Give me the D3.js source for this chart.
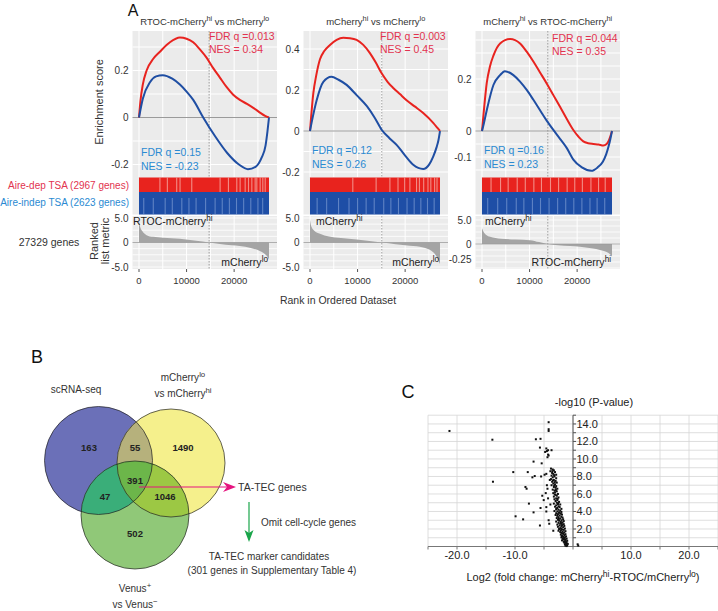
<!DOCTYPE html>
<html><head><meta charset="utf-8">
<script src="https://cdn.jsdelivr.net/npm/d3@7"></script>
<style>body{margin:0;background:#fff;} svg{font-family:"Liberation Sans",Arial,sans-serif;}</style>
</head><body><svg id="c" width="718" height="611"></svg>
<script>
// ================= DATA =================
const nGenes = 27329;
const gseaTitles = ["RTOC-mCherry^{hi} vs mCherry^{lo}", "mCherry^{hi} vs mCherry^{lo}", "mCherry^{hi} vs RTOC-mCherry^{hi}"];
const redFDR = ["FDR q =0.013", "FDR q =0.003", "FDR q =0.044"];
const redNES = ["NES = 0.34", "NES = 0.45", "NES = 0.35"];
const blueFDR = ["FDR q =0.15", "FDR q =0.12", "FDR q =0.16"];
const blueNES = ["NES = -0.23", "NES = 0.26", "NES = 0.23"];
const topLabels = ["RTOC-mCherry^{hi}", "mCherry^{hi}", "mCherry^{hi}"];
const bottomLabels = ["mCherry^{lo}", "mCherry^{lo}", "RTOC-mCherry^{hi}"];
const crossRanks = [14740, 15090, 13830];
const esTicks = [[-0.2, 0, 0.2], [-0.2, 0, 0.2, 0.4], [-0.1, 0, 0.2]];
const metricTickValues = [[5, 0, -5], [5, 0, -5], [5, 0, -3.125]];
const metricTickLabels = [["5.0", "0", "-5.0"], ["5.0", "0", "-5.0"], ["5.0", "0", "-0.25"]];
const rankTicks = [0, 10000, 20000];
const geneSets = ["Aire-dep TSA (2967 genes)", "Aire-indep TSA (2623 genes)"];
const totalGenesLabel = "27329 genes";

const esRed = [
 [[0,0],[300,0.07],[800,0.14],[1600,0.2],[3000,0.25],[4400,0.28],[6500,0.32],[8600,0.34],[10000,0.335],[11400,0.32],[12800,0.29],[14200,0.255],[15600,0.21],[17000,0.17],[18400,0.13],[19800,0.097],[21200,0.075],[22700,0.058],[24100,0.04],[25500,0.02],[26500,0.007],[27329,0]],
 [[0,0],[700,0.185],[1300,0.27],[2100,0.35],[3000,0.39],[4200,0.42],[5600,0.445],[7000,0.455],[8400,0.453],[9800,0.445],[11200,0.42],[12600,0.38],[13800,0.335],[15100,0.28],[16300,0.24],[17500,0.21],[18900,0.18],[20300,0.15],[22000,0.12],[23800,0.088],[25900,0.04],[26800,0.015],[27329,0]],
 [[0,0],[400,0.08],[1000,0.185],[1700,0.25],[2400,0.29],[3800,0.337],[5900,0.354],[8000,0.337],[9400,0.305],[10800,0.267],[12200,0.225],[13600,0.183],[15000,0.138],[16400,0.093],[17800,0.047],[19200,0.004],[20300,-0.022],[21300,-0.04],[22300,-0.047],[23400,-0.05],[24500,-0.052],[25500,-0.056],[26200,-0.05],[26700,-0.035],[27329,0]]
];
const esBlue = [
 [[0,0],[800,0.08],[2300,0.15],[3600,0.175],[5000,0.18],[7000,0.165],[8600,0.14],[10000,0.11],[11400,0.075],[13500,0],[16000,-0.08],[18500,-0.15],[21000,-0.2],[22900,-0.22],[24500,-0.21],[25800,-0.17],[26600,-0.12],[27000,-0.06],[27329,0]],
 [[0,0],[600,0.07],[1400,0.15],[2800,0.24],[4500,0.265],[6000,0.25],[7700,0.225],[9800,0.175],[12000,0.12],[13600,0.065],[15100,0.005],[16700,-0.035],[18300,-0.07],[20000,-0.12],[21700,-0.165],[23800,-0.185],[25000,-0.165],[25900,-0.125],[26600,-0.08],[27000,-0.045],[27329,0]],
 [[0,0],[400,0.03],[1000,0.08],[2400,0.177],[3800,0.215],[4800,0.23],[6600,0.215],[8000,0.19],[9400,0.158],[10800,0.12],[12200,0.08],[13600,0.04],[15000,0.004],[16400,-0.03],[17800,-0.065],[19200,-0.11],[21000,-0.14],[23000,-0.153],[24300,-0.14],[25400,-0.118],[26100,-0.09],[26600,-0.06],[27000,-0.03],[27329,0]]
];
const rankedMetric = [
 [[0,4.4],[300,3.0],[800,2.2],[1600,1.5],[3000,1.15],[5000,0.95],[8600,0.75],[12000,0.35],[14740,0],[17000,-0.3],[19500,-0.55],[21200,-0.7],[23500,-1.1],[25500,-1.8],[26500,-2.4],[27000,-2.9],[27329,-3.4]],
 [[0,4.6],[300,3.2],[900,2.4],[2100,1.8],[4000,1.2],[6500,0.9],[9800,0.6],[12500,0.3],[15090,0],[18000,-0.35],[21000,-0.65],[23800,-1.0],[25500,-1.7],[26700,-3.0],[27329,-4.4]],
 [[0,3.3],[400,2.4],[900,1.9],[1700,1.5],[4000,1.1],[7000,0.95],[10100,0.8],[12000,0.4],[13830,0],[16000,-0.25],[18500,-0.4],[20600,-0.55],[23000,-0.9],[25000,-1.3],[26600,-1.9],[27329,-2.6]]
];
// ranks where the hit bars are sparse (lighter stripes)
const redGaps = [
 [4400,5960,7930,8630,11090,17050,18800,20560,21260,22320,23020,23720,24420,24770,25470,26030,26530],
 [9000,13900,16800,18500,19900,21000,22400,23000,23900,24800,25400,26200,26700],
 [1900,3900,5500,7400,9100,10900,12500,14400,16100,17900,19500,21100,22900,24500,25900]
];
const blueGaps = [
 [1000,3000,5500,7000,9000,10500,12000,14000,16000,17500,19000,20500,22000,23500,25000,26000],
 [1500,3500,6000,8200,10000,11800,13500,15500,17000,18600,20400,21900,23300,24700,26100],
 [1200,3300,5200,7200,8800,10600,12300,14100,15900,17600,19300,21000,22700,24200,25800]
];

// Venn
const vennSets = ["scRNA-seq", "mCherry^{lo}|vs mCherry^{hi}", "Venus^{+}|vs Venus^{−}"];
const vennCounts = {A:163, B:1490, C:502, AB:55, AC:47, BC:1046, ABC:391};
const flowTexts = ["TA-TEC genes", "Omit cell-cycle genes", "TA-TEC marker candidates", "(301 genes in Supplementary Table 4)"];

// Volcano (log2 FC, -log10 P)
const volcanoOutliers = [
 [-21.3,13.2],[-13.9,12.2],[-13.8,7.4],[-4.2,14.2],[-4.2,13.4],[-4.2,13.2],[-6.4,12.25],[-5.6,12.3],[-5.7,11.3],
 [-4.6,11.2],[-4.3,11.0],[-4.5,10.9],[-4.3,10.5],[-4.2,10.4],[-3.7,11.0],[-4.8,10.8],[-6.8,9.7],[-5.4,9.5],[-4.4,10.2],
 [-10.3,8.5],[-7.8,8.5],[-6.6,8.05],[-7.0,7.9],[-5.5,8.0],[-8.2,6.8],[-8.0,6.6],[-7.6,4.9],[-9.9,3.45],[-8.6,3.1],
 [-6.8,3.9],[-5.7,2.4],[-5.3,5.8],[-5.05,5.3],[-5.6,4.4],[-4.6,4.5],[-4.9,8.2],[-4.6,8.3],[-4.5,7.0],[-4.7,6.1],
 [-4.3,5.5],[-3.9,4.8],[-4.6,4.0],[-4.2,3.0],[-4.1,2.6],[-3.4,1.8],[-4.4,6.6],[-4.0,7.6],[0.8,0.25],[0.9,0.1]
];
const volcanoMain = [
 [-3.8,8.9],[-3.5,8.8],[-3.3,8.7],[-3.9,8.6],[-3.1,8.5],[-3.6,8.4],[-3.4,8.3],[-2.9,8.2],
 [-3.7,8.1],[-3.2,8.0],[-3.5,7.9],[-2.9,7.8],[-3.8,7.7],[-3.3,7.6],[-3.0,7.5],[-3.6,7.4],[-2.8,7.3],
 [-3.4,7.2],[-3.1,7.1],[-3.7,7.0],[-2.9,6.9],[-3.3,6.8],[-3.0,6.7],[-2.7,6.6],[-3.5,6.5],[-3.2,6.4],
 [-2.8,6.3],[-3.1,6.2],[-3.4,6.1],[-2.6,6.0],[-3.0,5.9],[-2.8,5.8],[-3.3,5.7],[-2.5,5.6],[-2.9,5.5],[-3.2,5.4],
 [-2.7,5.3],[-3.0,5.2],[-2.4,5.1],[-2.8,5.0],[-3.3,4.9],[-2.6,4.85],[-2.2,4.8],[-2.9,4.7],[-2.5,4.6],[-3.1,4.55],[-2.3,4.5],[-2.7,4.4],
 [-2.0,4.3],[-2.9,4.25],[-2.5,4.2],[-2.2,4.1],[-3.2,4.05],[-2.7,4.0],[-2.0,3.95],[-2.4,3.9],[-2.9,3.8],[-2.1,3.75],[-2.6,3.7],[-1.9,3.65],[-3.0,3.6],[-2.3,3.55],[-2.7,3.5],
 [-2.0,3.4],[-2.5,3.35],[-1.8,3.3],[-2.8,3.25],[-2.2,3.2],[-1.7,3.1],[-2.6,3.05],[-2.0,3.0],[-2.4,2.95],[-1.6,2.9],[-2.9,2.85],[-2.1,2.8],[-1.8,2.75],[-2.5,2.7],[-2.2,2.6],[-1.6,2.55],[-2.7,2.5],
 [-1.9,2.45],[-2.3,2.4],[-1.5,2.35],[-2.0,2.3],[-2.6,2.25],[-1.7,2.2],[-2.2,2.1],[-1.4,2.05],[-2.4,2.0],[-1.9,1.95],[-1.6,1.9],[-2.1,1.85],[-2.5,1.8],[-1.3,1.75],[-1.8,1.7],[-2.2,1.65],[-1.5,1.6],[-2.0,1.55],
 [-1.7,1.45],[-1.3,1.4],[-2.1,1.35],[-1.5,1.3],[-1.9,1.2],[-1.2,1.15],[-1.6,1.1],[-2.0,1.05],[-1.4,1.0],[-1.8,0.95],[-1.1,0.9],[-1.5,0.85],[-1.7,0.8],[-1.3,0.75],[-1.9,0.7],[-1.0,0.65],[-1.4,0.6],[-1.6,0.55],[-1.2,0.5],
 [-1.5,0.45],[-1.1,0.4],[-1.3,0.35],[-0.9,0.3],[-1.4,0.25],[-1.2,0.2],[-1.0,0.15],[-1.3,0.1],[-1.1,0.05],
 [-3.55,8.6],[-3.25,8.15],[-3.45,7.55],[-3.15,7.35],[-3.25,6.95],[-2.95,6.45],[-3.15,5.95],[-2.65,5.45],[-2.55,4.95],[-2.85,4.35],[-2.35,3.85],[-2.45,3.15],[-1.95,2.65],[-2.05,2.05],[-1.75,1.5],[-1.55,0.95],[-1.25,0.45]
];
const volXTicks = [-20, -10, 10, 20];
const volYTicks = [2, 4, 6, 8, 10, 12, 14];
const volTitle = "-log10 (P-value)";
const volXLabel = "Log2 (fold change: mCherry^{hi}-RTOC/mCherry^{lo})";

// ================= DRAW =================
const svg = d3.select("#c");
const redLine = "#e8231f", blueLine = "#1f4ea3", redText = "#e2334f", blueText = "#2a8ad2";
const txt = "#333";

function rich(t, str, fs) {
  const parts = str.split(/(\^\{[^}]*\})/).filter(s => s.length);
  let shifted = false;
  parts.forEach(p => {
    const m = p.match(/^\^\{([^}]*)\}$/);
    if (m) {
      t.append("tspan").attr("dy", -fs * 0.38).attr("font-size", fs * 0.78).text(m[1]);
      shifted = true;
    } else {
      const s = t.append("tspan").text(p);
      if (shifted) s.attr("dy", fs * 0.38);
      shifted = false;
    }
  });
  return t;
}
function label(g, str, x, y, fs, opts = {}) {
  const t = g.append("text").attr("x", x).attr("y", y).attr("font-size", fs)
    .attr("fill", opts.fill || txt).attr("text-anchor", opts.anchor || "start");
  if (opts.transform) t.attr("transform", opts.transform);
  return rich(t, str, fs);
}

// Panel letters
label(svg, "A", 133, 15.5, 16, {anchor: "middle", fill: "#111"});
label(svg, "B", 37, 363, 18, {anchor: "middle", fill: "#111"});
label(svg, "C", 408, 398, 18, {anchor: "middle", fill: "#111"});

// ---------- Panel A ----------
const layout = [
  {x0: 139, esDom: [-0.2, 0.2], esRng: [164.5, 70.5], esGrid: 0.1, mDom: [-5, 5], mRng: [267, 218], tlDx: -6, redY: 40, blueY: 156},
  {x0: 310, esDom: [-0.2, 0.4], esRng: [172, 49], esGrid: 0.1, mDom: [-5, 5], mRng: [267, 218], tlDx: 6, redY: 40, blueY: 154},
  {x0: 482, esDom: [-0.1, 0.2], esRng: [157, 79], esGrid: 0.05, mDom: [-5, 5], mRng: [268, 220], tlDx: 3, redY: 42, blueY: 154}
];
const W = 130, esTop = 31, esBot = 177, redTop = 177.5, redBot = 192, blueBot = 214.5, mTop = 216, mBot = 269;

layout.forEach((L, i) => {
  const g = svg.append("g");
  const x = d3.scaleLinear().domain([0, nGenes]).range([L.x0, L.x0 + W]);
  const plotL = L.x0 - 6.5, plotR = L.x0 + W + 8;
  const yE = d3.scaleLinear().domain(L.esDom).range(L.esRng);
  const yM = d3.scaleLinear().domain(L.mDom).range(L.mRng);

  // backgrounds
  g.append("rect").attr("x", plotL).attr("y", esTop).attr("width", plotR - plotL).attr("height", blueBot - esTop).attr("fill", "#ebebeb");
  g.append("rect").attr("x", plotL).attr("y", mTop).attr("width", plotR - plotL).attr("height", mBot - mTop).attr("fill", "#ebebeb");

  // grids
  const vr = d3.range(0, 30001, 5000).filter(r => x(r) <= plotR);
  g.selectAll(null).data(vr).join("line")
    .attr("x1", d => x(d)).attr("x2", d => x(d)).attr("y1", esTop).attr("y2", esBot)
    .attr("stroke", "#fff").attr("stroke-width", 1);
  g.selectAll(null).data(vr).join("line")
    .attr("x1", d => x(d)).attr("x2", d => x(d)).attr("y1", mTop).attr("y2", mBot)
    .attr("stroke", "#fff").attr("stroke-width", 1);
  const hr = d3.range(-0.5, 0.6, L.esGrid).map(v => +v.toFixed(3)).filter(v => yE(v) > esTop && yE(v) < esBot);
  g.selectAll(null).data(hr).join("line")
    .attr("x1", plotL).attr("x2", plotR).attr("y1", d => yE(d)).attr("y2", d => yE(d))
    .attr("stroke", "#fff").attr("stroke-width", 1);
  const mr = d3.range(-5, 5.01, 1.25).filter(v => yM(v) > mTop && yM(v) < mBot);
  g.selectAll(null).data(mr).join("line")
    .attr("x1", plotL).attr("x2", plotR).attr("y1", d => yM(d)).attr("y2", d => yM(d))
    .attr("stroke", "#fff").attr("stroke-width", 0.8);

  // zero line
  g.append("line").attr("x1", plotL).attr("x2", plotR).attr("y1", yE(0)).attr("y2", yE(0)).attr("stroke", "#9a9a9a").attr("stroke-width", 1.2);
  // crossing dotted line
  [[esTop, esBot], [mTop, mBot]].forEach(([a, b]) =>
    g.append("line").attr("x1", x(crossRanks[i])).attr("x2", x(crossRanks[i])).attr("y1", a).attr("y2", b)
      .attr("stroke", "#8a8a8a").attr("stroke-width", 0.8).attr("stroke-dasharray", "1.5,1.5"));

  // ES curves
  const line = d3.line().x(d => x(d[0])).y(d => yE(d[1])).curve(d3.curveMonotoneX);
  g.append("path").attr("d", line(esRed[i])).attr("fill", "none").attr("stroke", redLine).attr("stroke-width", 2);
  g.append("path").attr("d", line(esBlue[i])).attr("fill", "none").attr("stroke", blueLine).attr("stroke-width", 2);

  // hit bands
  g.append("rect").attr("x", x(0)).attr("y", redTop).attr("width", W).attr("height", redBot - redTop).attr("fill", "#e8231e");
  g.append("rect").attr("x", x(0)).attr("y", redBot).attr("width", W).attr("height", blueBot - redBot).attr("fill", "#1e4ea6");
  g.selectAll(null).data(redGaps[i]).join("line")
    .attr("x1", d => x(d)).attr("x2", d => x(d)).attr("y1", redTop).attr("y2", redBot)
    .attr("stroke", "#f6b0a8").attr("stroke-opacity", 0.75).attr("stroke-width", 1.1);
  g.selectAll(null).data(blueGaps[i]).join("line")
    .attr("x1", d => x(d)).attr("x2", d => x(d)).attr("y1", redBot + 6).attr("y2", blueBot)
    .attr("stroke", "#8aa6d8").attr("stroke-opacity", 0.6).attr("stroke-width", 1.1);

  // ranked metric area
  const area = d3.area().x(d => x(d[0])).y0(yM(0)).y1(d => yM(d[1])).curve(d3.curveMonotoneX);
  g.append("path").attr("d", area(rankedMetric[i])).attr("fill", "#a4a4a4");
  g.append("line").attr("x1", plotL).attr("x2", plotR).attr("y1", yM(0)).attr("y2", yM(0)).attr("stroke", "#9a9a9a").attr("stroke-width", 0.8);

  // y tick labels
  g.selectAll(null).data(esTicks[i]).join("text")
    .attr("x", plotL - 4).attr("y", d => yE(d)).attr("dy", "0.35em").attr("text-anchor", "end")
    .attr("font-size", 10).attr("fill", txt).text(d => d === 0 ? "0" : d.toFixed(1));
  g.selectAll(null).data(metricTickValues[i]).join("text")
    .attr("x", plotL - 4).attr("y", d => yM(d)).attr("dy", "0.35em").attr("text-anchor", "end")
    .attr("font-size", 10).attr("fill", txt).text((d, j) => metricTickLabels[i][j]);

  // x axis
  g.selectAll(null).data(rankTicks).join("line")
    .attr("x1", d => x(d)).attr("x2", d => x(d)).attr("y1", mBot).attr("y2", mBot + 3).attr("stroke", "#555");
  g.selectAll(null).data(rankTicks).join("text")
    .attr("x", d => x(d)).attr("y", 281).attr("dy", "0.35em").attr("text-anchor", "middle")
    .attr("font-size", 9.5).attr("fill", txt).text(d => d);

  // titles & annotations
  label(g, gseaTitles[i], (plotL + plotR) / 2, 24.5, 9.5, {anchor: "middle"});
  label(g, redFDR[i], L.x0 + 70, L.redY, 10.5, {fill: redText});
  label(g, redNES[i], L.x0 + 70, L.redY + 13, 10.5, {fill: redText});
  label(g, blueFDR[i], L.x0 + 2, L.blueY, 10.5, {fill: blueText});
  label(g, blueNES[i], L.x0 + 2, L.blueY + 14, 10.5, {fill: blueText});
  label(g, topLabels[i], L.x0 + L.tlDx, 225, 10.5, {fill: "#222"});
  label(g, bottomLabels[i], L.x0 + W - 1, 266, 10.5, {fill: "#222", anchor: "end"});
});

label(svg, "Enrichment score", 103, 102, 11, {anchor: "middle", transform: "rotate(-90,103,102)"});
label(svg, "Ranked", 98, 241, 11, {anchor: "middle", transform: "rotate(-90,98,241)"});
label(svg, "list metric", 109, 241, 11, {anchor: "middle", transform: "rotate(-90,109,241)"});
label(svg, geneSets[0], 129, 188.5, 10, {anchor: "end", fill: redText});
label(svg, geneSets[1], 129, 206, 10, {anchor: "end", fill: blueText});
label(svg, totalGenesLabel, 49, 245.5, 10.5, {anchor: "middle"});
label(svg, "Rank in Ordered Dataset", 338, 304, 10.5, {anchor: "middle"});

// ---------- Panel B: Venn ----------
const vg = svg.append("g");
const circ = {A: {cx: 98.5, cy: 460.5, r: 54}, B: {cx: 171, cy: 463, r: 54}, C: {cx: 135, cy: 515, r: 54}};
const colA = "#6b70b8", colB = "#f5f08c", colC = "#90c878";
const defs = svg.append("defs");
["A", "B", "C"].forEach(k => {
  defs.append("clipPath").attr("id", "clip" + k).append("circle").attr("cx", circ[k].cx).attr("cy", circ[k].cy).attr("r", circ[k].r);
});
const drawCircle = (g, k, fill) => g.append("circle").attr("cx", circ[k].cx).attr("cy", circ[k].cy).attr("r", circ[k].r).attr("fill", fill);
drawCircle(vg, "A", colA);
drawCircle(vg, "B", colB);
drawCircle(vg, "C", colC);
drawCircle(vg.append("g").attr("clip-path", "url(#clipB)"), "A", "#b6b17c");
drawCircle(vg.append("g").attr("clip-path", "url(#clipC)"), "A", "#3aae79");
drawCircle(vg.append("g").attr("clip-path", "url(#clipC)"), "B", "#9cc844");
drawCircle(vg.append("g").attr("clip-path", "url(#clipC)").append("g").attr("clip-path", "url(#clipB)"), "A", "#6cb64a");
["A", "B", "C"].forEach(k => vg.append("circle").attr("cx", circ[k].cx).attr("cy", circ[k].cy).attr("r", circ[k].r)
  .attr("fill", "none").attr("stroke", "#222").attr("stroke-width", 0.7));
const countPos = {A: [89, 448], AB: [135, 448], B: [183, 448], ABC: [135, 481], AC: [105, 497], BC: [165, 497], C: [135, 534]};
Object.keys(countPos).forEach(k => {
  vg.append("text").attr("x", countPos[k][0]).attr("y", countPos[k][1]).attr("dy", "0.35em").attr("text-anchor", "middle")
    .attr("font-size", 9.5).attr("font-weight", "bold").attr("fill", "#222").text(vennCounts[k]);
});
const setLabelPos = [[[76, 393]], [[183, 381], [183, 397]], [[135, 592], [135, 608]]];
vennSets.forEach((s, i) => s.split("|").forEach((ln, j) =>
  label(vg, ln, setLabelPos[i][j][0], setLabelPos[i][j][1], 10, {anchor: "middle"})));

// arrows
const pink = "#e6147f", green = "#1aa54a";
vg.append("line").attr("x1", 139).attr("x2", 229).attr("y1", 487).attr("y2", 487).attr("stroke", pink).attr("stroke-width", 1.2);
vg.append("path").attr("d", "M236,487 L223,482 L227,487 L223,492 Z").attr("fill", pink);
vg.append("line").attr("x1", 249).attr("x2", 249).attr("y1", 502).attr("y2", 535).attr("stroke", green).attr("stroke-width", 1.2);
vg.append("path").attr("d", "M249,542 L244.5,530 L249,533 L253.5,530 Z").attr("fill", green);
label(vg, flowTexts[0], 238, 491, 10.5);
label(vg, flowTexts[1], 261, 526, 10);
label(vg, flowTexts[2], 269, 560, 10, {anchor: "middle"});
label(vg, flowTexts[3], 272, 573.5, 10, {anchor: "middle"});

// ---------- Panel C: volcano ----------
const cg = svg.append("g");
const vx = d3.scaleLinear().domain([-25, 25]).range([428, 718]);
const vy = d3.scaleLinear().domain([0, 15]).range([546.5, 415.2]);
cg.selectAll(null).data(d3.range(-25, 25.1, 5)).join("line")
  .attr("x1", d => vx(d)).attr("x2", d => vx(d)).attr("y1", vy(15)).attr("y2", vy(0))
  .attr("stroke", "#d6d6d6").attr("stroke-width", 0.8);
cg.selectAll(null).data(d3.range(1, 15.1, 1)).join("line")
  .attr("x1", vx(-25)).attr("x2", vx(25)).attr("y1", d => vy(d)).attr("y2", d => vy(d))
  .attr("stroke", "#d6d6d6").attr("stroke-width", 0.8);
// axes
cg.append("line").attr("x1", vx(-25)).attr("x2", vx(25)).attr("y1", vy(0)).attr("y2", vy(0)).attr("stroke", "#777").attr("stroke-width", 1);
cg.append("line").attr("x1", vx(0)).attr("x2", vx(0)).attr("y1", vy(15)).attr("y2", vy(0)).attr("stroke", "#555").attr("stroke-width", 1);
cg.selectAll(null).data(d3.range(-25, 25.1, 5)).join("line")
  .attr("x1", d => vx(d)).attr("x2", d => vx(d)).attr("y1", vy(0)).attr("y2", vy(0) + 3).attr("stroke", "#777");
cg.selectAll(null).data(d3.range(1, 15.1, 1)).join("line")
  .attr("x1", vx(0)).attr("x2", vx(0) + 3).attr("y1", d => vy(d)).attr("y2", d => vy(d)).attr("stroke", "#555");
cg.selectAll(null).data(volXTicks).join("text")
  .attr("x", d => vx(d)).attr("y", 555).attr("dy", "0.35em").attr("text-anchor", "middle")
  .attr("font-size", 11).attr("fill", "#222").text(d => d.toFixed(1));
cg.selectAll(null).data(volYTicks).join("text")
  .attr("x", vx(0) + 3.5).attr("y", d => vy(d)).attr("dy", "0.35em")
  .attr("font-size", 11).attr("fill", "#222").text(d => d.toFixed(1));
label(cg, volTitle, 594, 406, 11, {anchor: "middle", fill: "#222"});
label(cg, volXLabel, 583, 581, 11, {anchor: "middle", fill: "#222"});
cg.selectAll(null).data(volcanoOutliers.concat(volcanoMain)).join("rect")
  .attr("x", d => vx(d[0]) - 1).attr("y", d => vy(d[1]) - 1).attr("width", 2).attr("height", 2).attr("fill", "#111");
</script></body></html>
